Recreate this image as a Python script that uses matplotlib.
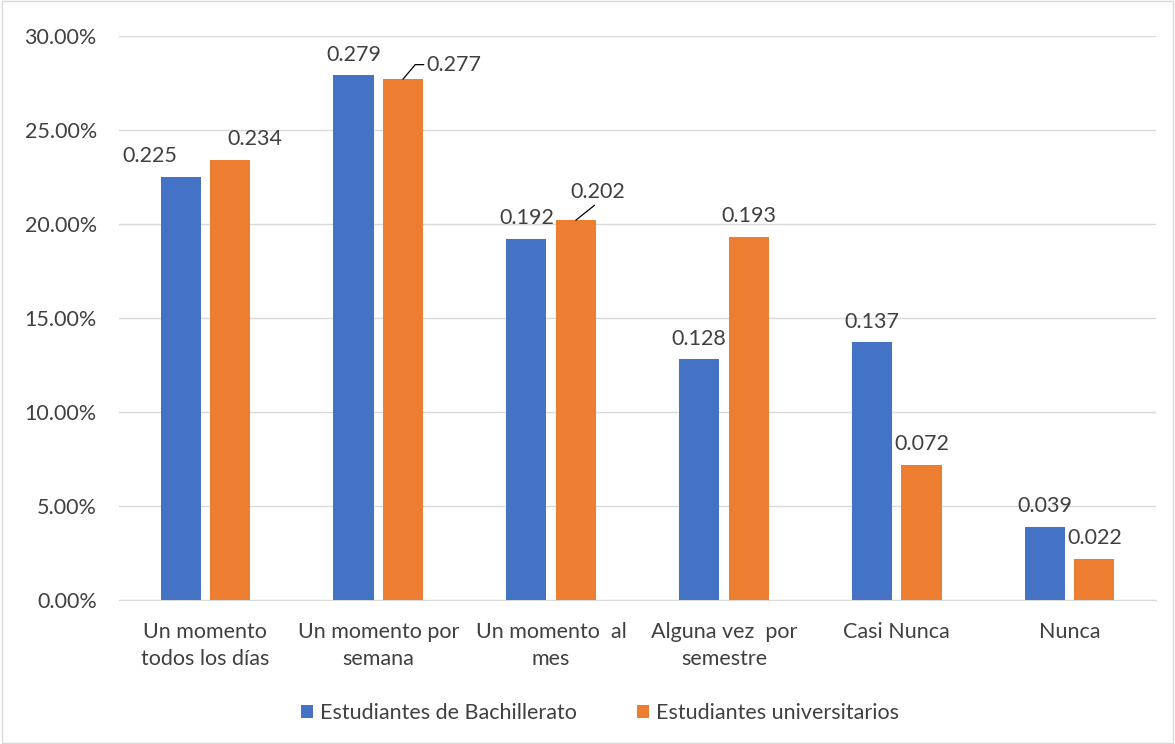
import matplotlib.pyplot as plt
import numpy as np
from matplotlib.patches import Rectangle

categories = ['Un momento\ntodos los días', 'Un momento por\nsemana', 'Un momento  al\nmes',
              'Alguna vez  por\nsemestre', 'Casi Nunca', 'Nunca']
bachillerato = [0.225, 0.279, 0.192, 0.128, 0.137, 0.039]
universitarios = [0.234, 0.277, 0.202, 0.193, 0.072, 0.022]
series_names = ['Estudiantes de Bachillerato', 'Estudiantes universitarios']

blue = '#4472C4'
orange = '#ED7D31'
text_color = '#404040'
fs = 15.5

plt.rcParams['font.family'] = ['Lato', 'DejaVu Sans']

fig = plt.figure(figsize=(11.75, 7.44), dpi=100)
ax = fig.add_axes([119 / 1175, 1 - 600 / 744, 1037 / 1175, 564 / 744])

x = np.arange(len(categories))
w = 0.232
off = 0.143
b1 = ax.bar(x - off, bachillerato, w, color=blue, label=series_names[0], zorder=3)
b2 = ax.bar(x + off, universitarios, w, color=orange, label=series_names[1], zorder=3)

ax.set_xlim(-0.5, len(categories) - 0.5)
ax.set_ylim(0, 0.30)
yt = np.arange(0, 0.301, 0.05)
ax.set_yticks(yt)
ax.set_yticklabels(['%.2f%%' % (v * 100) for v in yt])
ax.yaxis.grid(True, color='#D9D9D9', linewidth=1, zorder=0)
ax.set_xticks(x)
ax.set_xticklabels(categories, linespacing=1.45)
ax.tick_params(axis='both', length=0, labelsize=fs, labelcolor=text_color)
ax.tick_params(axis='x', pad=16)
ax.tick_params(axis='y', pad=16)
for s in ['top', 'right', 'left']:
    ax.spines[s].set_visible(False)
ax.spines['bottom'].set_color('#D9D9D9')

# data labels (Excel moved a few of them aside)
blue_dx = [-22, 0, 0, 0, 0, 0]
orange_dx = [18, 0, 0, 0, 0, 0]
for i, v in enumerate(bachillerato):
    ax.annotate('%.3f' % v, (x[i] - off, v), xytext=(blue_dx[i], 15), textcoords='offset points',
                ha='center', va='center', fontsize=fs, color=text_color)
for i, v in enumerate(universitarios):
    if i == 1:
        ax.annotate('%.3f' % v, (x[i] + off, v), xytext=(17, 10.5), textcoords='offset points',
                    ha='left', va='center', fontsize=fs, color=text_color,
                    arrowprops=dict(arrowstyle='-', color='black', lw=0.9,
                                    shrinkA=0, shrinkB=0, relpos=(0, 0.5),
                                    connectionstyle='angle,angleA=0,angleB=50,rad=0'))
    elif i == 2:
        ax.annotate('%.3f' % v, (x[i] + off, v), xytext=(16, 20), textcoords='offset points',
                    ha='center', va='center', fontsize=fs, color=text_color,
                    arrowprops=dict(arrowstyle='-', color='black', lw=0.9,
                                    shrinkA=0, shrinkB=0, relpos=(0.5, 0)))
    else:
        ax.annotate('%.3f' % v, (x[i] + off, v), xytext=(orange_dx[i], 15), textcoords='offset points',
                    ha='center', va='center', fontsize=fs, color=text_color)

fig.legend(handles=[b1, b2], loc='center', bbox_to_anchor=(600 / 1175, 1 - 713 / 744), ncol=2,
           frameon=False, fontsize=fs, handlelength=0.56, handleheight=0.56,
           handletextpad=0.3, columnspacing=2.8, labelcolor=text_color)

fig.patches.append(Rectangle((0.002, 0.002), 0.996, 0.996, transform=fig.transFigure,
                             fill=False, edgecolor='#D9D9D9', linewidth=1))

plt.savefig('out.png', dpi=100)
